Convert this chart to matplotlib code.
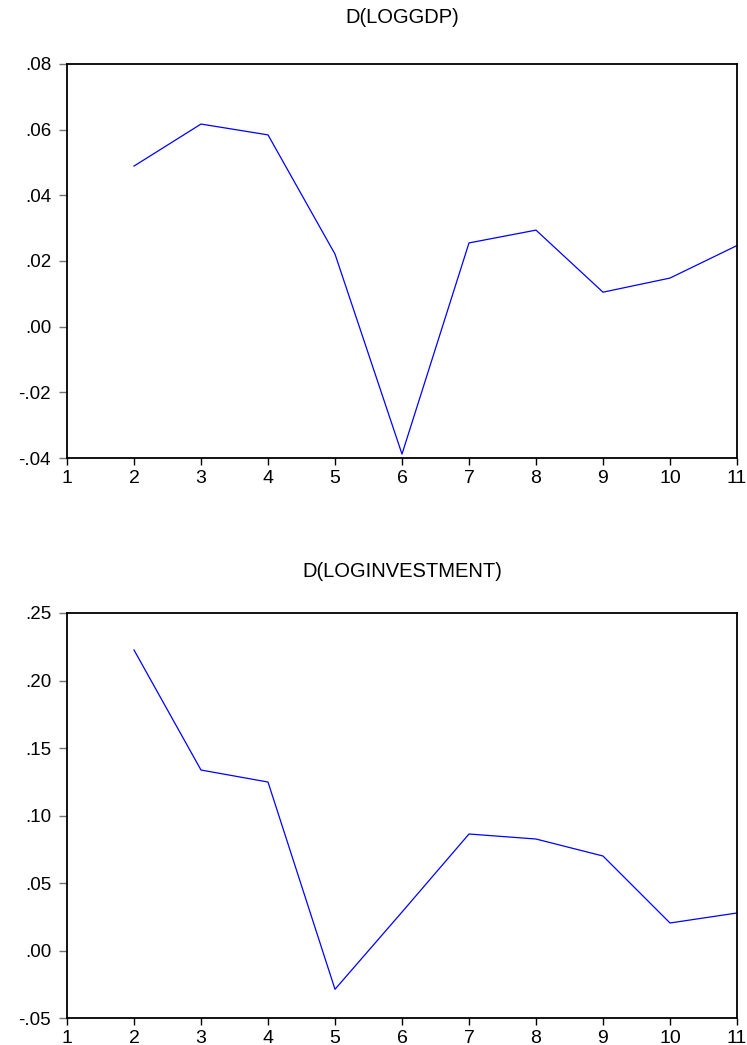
import matplotlib
matplotlib.use('Agg')
import matplotlib.pyplot as plt
from matplotlib.ticker import FuncFormatter

plt.rcParams['font.family'] = ['Liberation Sans', 'DejaVu Sans']

# observations 1..11, first difference starts at 2
obs = [2, 3, 4, 5, 6, 7, 8, 9, 10, 11]
d_loggdp = [0.0489, 0.0617, 0.0584, 0.0221, -0.0388, 0.0255, 0.0294, 0.0105, 0.0148, 0.0247]
d_loginv = [0.2226, 0.1337, 0.1248, -0.0287, 0.0285, 0.0863, 0.0826, 0.0700, 0.0204, 0.0278]

x_ticks = list(range(1, 12))
gdp_yticks = [-0.04, -0.02, 0.00, 0.02, 0.04, 0.06, 0.08]
inv_yticks = [-0.05, 0.00, 0.05, 0.10, 0.15, 0.20, 0.25]


def eviews_fmt(v, pos):
    # .08 / -.04 style labels
    s = f"{v:.2f}"
    return s.replace("0.", ".", 1)


fig = plt.figure(figsize=(7.47, 10.45), dpi=100)
ax1 = fig.add_axes([0.0897, 0.5617, 0.8969, 0.3771])
ax2 = fig.add_axes([0.0897, 0.0258, 0.8969, 0.3876])

panels = [
    (ax1, d_loggdp, gdp_yticks, 'D(LOGGDP)', 0.983),
    (ax2, d_loginv, inv_yticks, 'D(LOGINVESTMENT)', 0.453),
]

for ax, vals, yt, title, ty in panels:
    ax.plot(obs, vals, color='#0000ff', linewidth=0.9)
    ax.set_xlim(1, 11)
    ax.set_ylim(yt[0], yt[-1])
    ax.set_xticks(x_ticks)
    ax.set_yticks(yt)
    ax.yaxis.set_major_formatter(FuncFormatter(eviews_fmt))
    for sp in ax.spines.values():
        sp.set_linewidth(1.3)
        sp.set_color('black')
    ax.tick_params(axis='x', direction='out', length=5, width=1, pad=3.5, labelsize=14)
    ax.tick_params(axis='y', direction='out', length=5.5, width=1, pad=6,
                   labelsize=13.5, color='0.45')
    fig.text(0.538, ty, title, ha='center', va='center', fontsize=14.5)

fig.savefig('out.png', dpi=100)
